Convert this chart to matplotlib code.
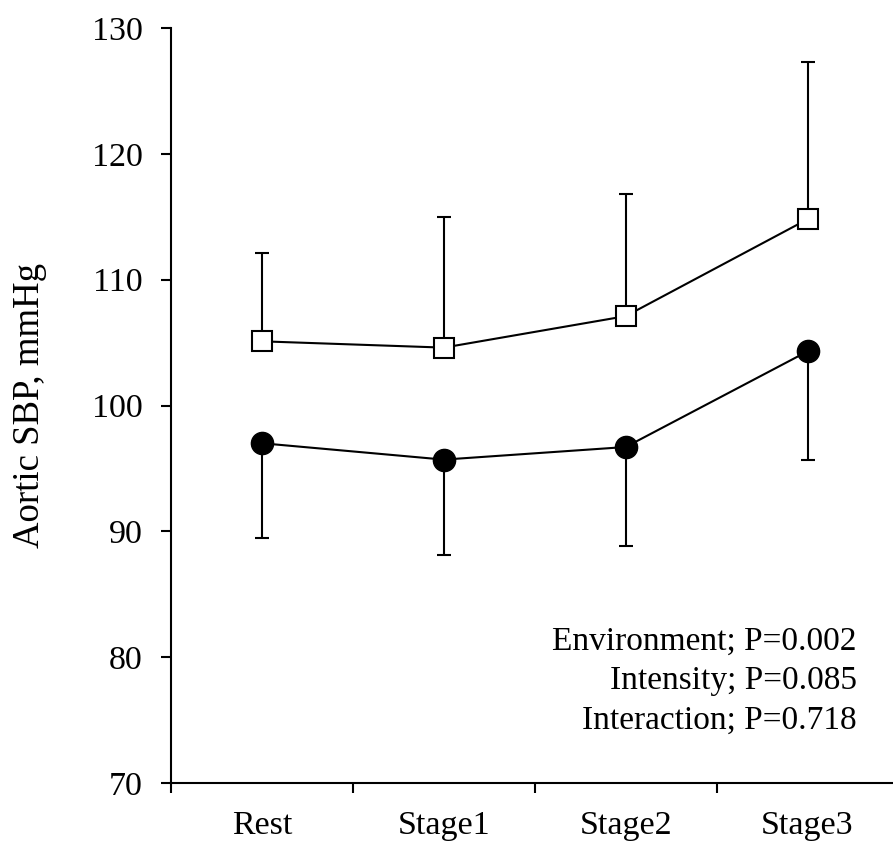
import numpy as np
import matplotlib.pyplot as plt

# data
stages = ['Rest', 'Stage1', 'Stage2', 'Stage3']
hot_mean = [105.1, 104.6, 107.1, 114.8]      # open squares
hot_upper = [112.1, 115.0, 116.8, 127.3]     # top of error bar
cool_mean = [97.0, 95.7, 96.7, 104.3]        # filled circles
cool_lower = [89.5, 88.1, 88.8, 95.7]        # bottom of error bar
stats_text = ['Environment; P=0.002', 'Intensity; P=0.085', 'Interaction; P=0.718']


def main():
    plt.rcParams['font.family'] = ['Liberation Serif', 'DejaVu Serif']
    fig = plt.figure(figsize=(8.93, 8.43), dpi=100)
    ax = fig.add_axes([171 / 893, 1 - 783 / 843, (893 - 171) / 893, (783 - 28) / 843])

    x = np.arange(len(stages))
    hot_err = np.array(hot_upper) - np.array(hot_mean)
    cool_err = np.array(cool_mean) - np.array(cool_lower)

    # error bars (one-sided)
    ax.errorbar(x, hot_mean, yerr=[np.zeros(4), hot_err], fmt='none',
                ecolor='black', elinewidth=1.5, capsize=4.7, capthick=1.5, zorder=2)
    ax.errorbar(x, cool_mean, yerr=[cool_err, np.zeros(4)], fmt='none',
                ecolor='black', elinewidth=1.5, capsize=4.7, capthick=1.5, zorder=2)

    ax.plot(x, hot_mean, color='black', lw=1.5, marker='s', ms=15,
            mfc='white', mec='black', mew=1.5, zorder=3)
    ax.plot(x, cool_mean, color='black', lw=1.5, marker='o', ms=16,
            mfc='black', mec='black', zorder=3)

    ax.set_ylim(70, 130)
    ax.set_yticks(np.arange(70, 131, 10))
    ax.set_xlim(-0.5, 3.47)
    ax.set_xticks(x)
    ax.set_xticklabels(stages)
    ax.set_xticks(np.arange(-0.5, 3.5, 1), minor=True)
    ax.tick_params(axis='x', which='major', length=0, pad=20, labelsize=24.5)
    ax.tick_params(axis='x', which='minor', length=7.5, width=1.5, direction='out')
    ax.tick_params(axis='y', length=7.5, width=1.5, direction='out', labelsize=24.5, pad=13)

    for s in ['top', 'right']:
        ax.spines[s].set_visible(False)
    for s in ['left', 'bottom']:
        ax.spines[s].set_linewidth(1.5)

    ax.set_ylabel('Aortic SBP, mmHg', fontsize=26.5, labelpad=32)

    ax.text(3.27, 78.1, '\n'.join(stats_text), ha='right', va='center',
            fontsize=24, linespacing=1.37)

    fig.savefig('out.png', dpi=100)


if __name__ == '__main__':
    main()
